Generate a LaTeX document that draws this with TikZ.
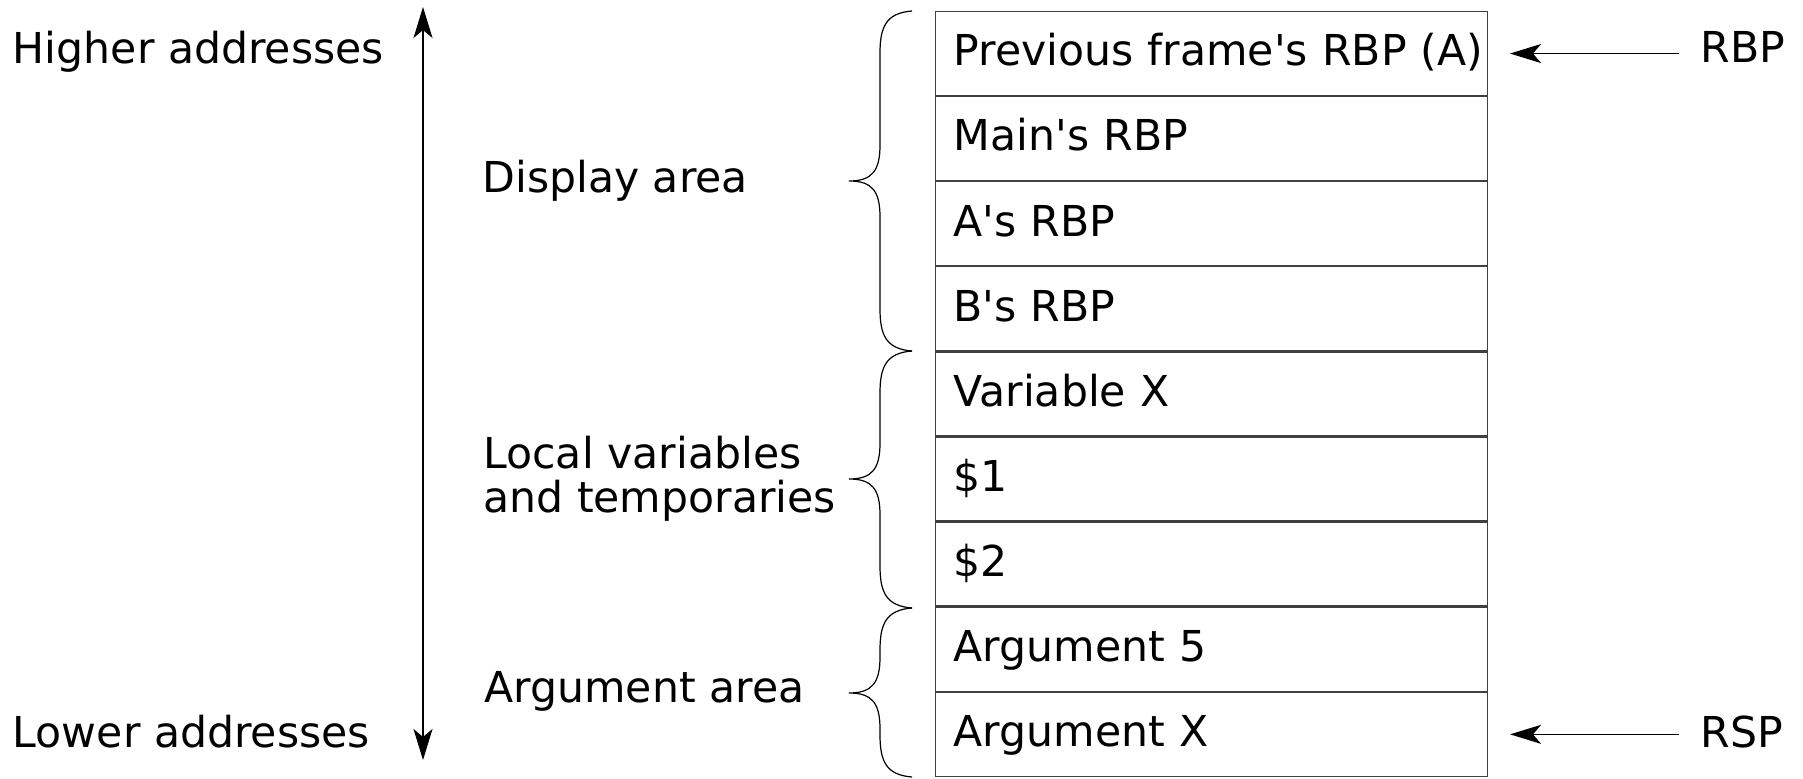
\documentclass[tikz,border=0pt]{standalone}
\usepackage{fontspec}
\setmainfont{DejaVu Sans}
\usetikzlibrary{arrows.meta,positioning}
\newcommand\apos{\textquotesingle}
% curly brace beside the stack: top y, tip y, bottom y
\newcommand\stackbrace[3]{%
  \draw[curly] (912,#1) .. controls (886,#1+2) and (880,#1+16) .. (880,#1+42)
    -- (880,#2-36) .. controls (880,#2-10) and (872,#2) .. (849,#2)
    .. controls (872,#2) and (880,#2+10) .. (880,#2+36)
    -- (880,#3-42) .. controls (880,#3-16) and (886,#3-2) .. (912,#3);}
\begin{document}
\begin{tikzpicture}[x=0.5pt,y=-0.5pt,
  >={Stealth[length=15.5pt,width=9.5pt,inset=4pt]},
  every node/.style={font=\fontsize{21.3pt}{21.8pt}\selectfont},
  slot/.style={draw=black!75, line width=0.6pt, rectangle,
    minimum width=275.9pt, minimum height=41.95pt,
    text width=273.9pt, inner xsep=1pt, inner ysep=0pt, align=left,
    text height=16pt, text depth=3.7pt,
    execute at begin node={\hspace*{8pt}}},
  lbl/.style={anchor=base west, inner sep=0pt},
  ptr/.style={->, line width=0.75pt},
  both/.style={<->, line width=0.75pt},
  curly/.style={line width=0.6pt}]
\useasboundingbox (0,0) rectangle (1803,779);

% stack frame slots
\node[slot, anchor=north west] (r1) at (935,11) {Previous frame\apos s RBP (A)};
\node[slot, below=0pt of r1] (r2) {Main\apos s RBP};
\node[slot, below=0pt of r2] (r3) {A\apos s RBP};
\node[slot, below=0pt of r3] (r4) {B\apos s RBP};
\node[slot, below=0pt of r4] (r5) {Variable X};
\node[slot, below=0pt of r5] (r6) {\$1};
\node[slot, below=0pt of r6] (r7) {\$2};
\node[slot, below=0pt of r7] (r8) {Argument 5};
\node[slot, below=0pt of r8] (r9) {Argument X};

% address direction
\node[lbl] (higher) at (12.5,64) {Higher addresses};
\node[lbl] (lower) at (12.5,747) {Lower addresses};
\coordinate (hi) at (423,7);
\coordinate (lo) at (423,760);
\draw[both] (lo) -- (hi);

% area braces and their labels
\stackbrace{11}{181}{351}
\stackbrace{351}{479}{608}
\stackbrace{608}{693}{777}
\node[lbl] (disp) at (482,193) {Display area};
\node[anchor=west, inner sep=0pt, align=left] (locals) at (483,479) {Local variables\\and temporaries};
\node[lbl] (args) at (484,703) {Argument area};

% register pointers
\node[lbl] (rbp) at (1700,63) {RBP};
\node[lbl] (rsp) at (1700,747) {RSP};
\draw[ptr, shorten <=10.5pt, shorten >=11pt] (rbp.west |- r1.east) -- (r1.east);
\draw[ptr, shorten <=10.5pt, shorten >=11pt] (rsp.west |- r9.east) -- (r9.east);
\end{tikzpicture}
\end{document}
